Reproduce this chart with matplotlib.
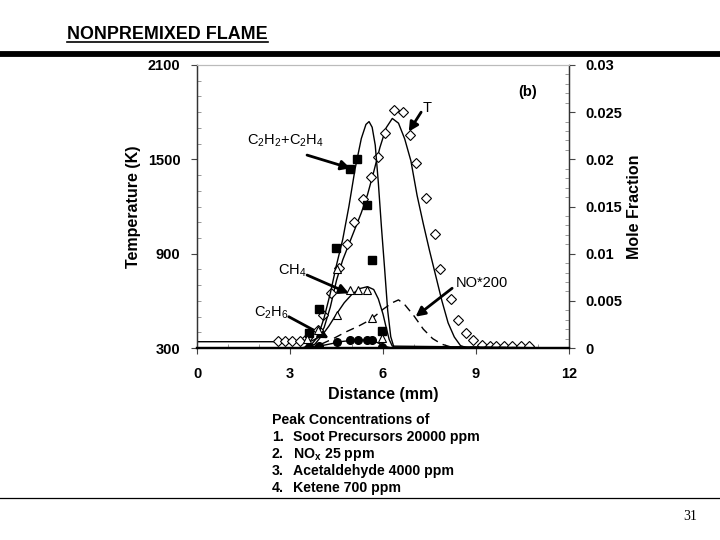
import matplotlib
matplotlib.use("Agg")
import matplotlib.pyplot as plt
from matplotlib.lines import Line2D
from matplotlib.ticker import MultipleLocator

plt.rcParams['font.family'] = ['Liberation Sans', 'DejaVu Sans']
plt.rcParams['mathtext.fontset'] = 'custom'
plt.rcParams['mathtext.rm'] = 'Liberation Sans'
plt.rcParams['mathtext.it'] = 'Liberation Sans:italic'
plt.rcParams['mathtext.bf'] = 'Liberation Sans:bold'

# ---------------- data ----------------
x_ticks = [0, 3, 6, 9, 12]
T_ticks = [300, 900, 1500, 2100]
mf_ticks = [0, 0.005, 0.01, 0.015, 0.02, 0.025, 0.03]
mf_tick_labels = ["0", "0.005", "0.01", "0.015", "0.02", "0.025", "0.03"]

# Temperature model line (K)
T_line_x = [0, 3.4, 3.7, 3.9, 4.1, 4.3, 4.5, 4.7, 4.9, 5.1, 5.3, 5.5, 5.7, 5.9, 6.1, 6.3,
            6.5, 6.7, 6.9, 7.1, 7.3, 7.5, 7.7, 7.9, 8.1, 8.3, 8.5, 8.7, 12]
T_line = [340, 340, 345, 365, 430, 560, 730, 860, 960, 1060, 1160, 1275, 1420, 1575, 1700, 1760,
          1730, 1630, 1490, 1270, 1090, 920, 760, 600, 460, 370, 315, 302, 300]
# Temperature measurements (open diamonds)
T_exp_x = [2.60, 2.83, 3.07, 3.31, 3.55, 3.91, 4.07, 4.31, 4.57, 4.85, 5.08, 5.36, 5.61, 5.83,
           6.07, 6.37, 6.63, 6.86, 7.07, 7.39, 7.68, 7.83, 8.19, 8.43, 8.68, 8.90, 9.18, 9.45,
           9.66, 9.90, 10.17, 10.44, 10.70]
T_exp = [346, 346, 346, 346, 362, 414, 510, 648, 807, 960, 1100, 1250, 1386, 1515,
         1667, 1814, 1798, 1657, 1475, 1256, 1027, 805, 613, 478, 396, 350, 319, 312,
         310, 310, 310, 310, 310]

# C2H2+C2H4 (mole fraction)
c2_line_x = [0, 3.4, 3.7, 3.9, 4.1, 4.3, 4.5, 4.7, 4.9, 5.1, 5.3, 5.45, 5.55, 5.65, 5.75,
             5.85, 5.95, 6.05, 6.15, 6.25, 6.35, 12]
c2_line = [0, 0, 0.0004, 0.0012, 0.0032, 0.0058, 0.0088, 0.0115, 0.0150, 0.0190, 0.0222,
           0.0237, 0.0240, 0.0234, 0.0215, 0.0175, 0.0128, 0.0085, 0.0040, 0.0012, 0.0001, 0]
c2_exp_x = [3.61, 3.93, 4.49, 4.92, 5.17, 5.49, 5.66, 5.98]
c2_exp = [0.0016, 0.0041, 0.0106, 0.0190, 0.0200, 0.0152, 0.0093, 0.0018]

# CH4
ch4_line_x = [0, 3.5, 3.8, 4.0, 4.25, 4.5, 4.75, 5.0, 5.25, 5.5, 5.7, 5.85, 6.0, 6.1, 6.2, 6.3, 12]
ch4_line = [0, 0, 0.0004, 0.0012, 0.0023, 0.0036, 0.0048, 0.0057, 0.0063, 0.0065, 0.0062,
            0.0052, 0.0036, 0.0022, 0.0009, 0.0002, 0]
ch4_exp_x = [3.55, 3.90, 4.52, 4.52, 4.93, 5.19, 5.49, 5.65, 5.98]
ch4_exp = [0.0010, 0.0019, 0.0084, 0.0035, 0.0061, 0.0062, 0.0061, 0.0032, 0.0011]

# C2H6
c2h6_line_x = [0, 3.5, 3.8, 4.1, 4.4, 4.7, 5.0, 5.3, 5.6, 5.8, 6.0, 6.15, 6.3, 12]
c2h6_line = [0, 0, 0.0001, 0.0003, 0.0005, 0.0007, 0.0008, 0.00085, 0.0008, 0.0006, 0.0003,
             0.0001, 0, 0]
c2h6_exp_x = [3.61, 3.93, 4.50, 4.92, 5.19, 5.49, 5.66, 5.98]
c2h6_exp = [0.0001, 0.0002, 0.0006, 0.0009, 0.0009, 0.0008, 0.0008, 0.0001]

# NO*200 (dashed)
no_line_x = [0, 3.6, 4.0, 4.4, 4.8, 5.2, 5.6, 6.0, 6.3, 6.5, 6.7, 7.0, 7.3, 7.6, 7.9, 8.2, 12]
no_line = [0, 0, 0.0004, 0.0010, 0.0017, 0.0023, 0.0030, 0.0041, 0.0048, 0.0051, 0.0046,
           0.0034, 0.0020, 0.0010, 0.0004, 0.0001, 0]

peak_lines = ["Peak Concentrations of",
              "Soot Precursors 20000 ppm",
              r"NO$_{\mathbf{x}}$ 25 ppm",
              "Acetaldehyde 4000 ppm",
              "Ketene 700 ppm"]

# ---------------- figure ----------------
W, H = 720, 540
fig = plt.figure(figsize=(7.2, 5.4), dpi=100)

def fx(px):
    return px / W

def fy(py):
    return 1 - py / H

# header
fig.text(fx(67), fy(39), "NONPREMIXED FLAME", fontsize=12.9, fontweight='bold',
         ha='left', va='baseline')
fig.add_artist(Line2D([fx(67), fx(268)], [fy(41.5), fy(41.5)], color='black', lw=1.2))
fig.add_artist(Line2D([0, 1], [fy(53.5), fy(53.5)], color='black', lw=4.2))
fig.add_artist(Line2D([0, 1], [fy(497.5), fy(497.5)], color='black', lw=0.9))
fig.text(fx(690), fy(517), "31", fontsize=10, family='Liberation Serif', ha='center', va='center')

# axes
ax = fig.add_axes([fx(197), fy(348), (569 - 197) / W, (348 - 65) / H])
ax2 = ax.twinx()
ax.set_xlim(0, 12)
ax.set_ylim(300, 2100)
ax2.set_ylim(0, 0.03)

ax.plot(T_line_x, T_line, color='black', lw=1.0, zorder=3)
ax.plot(T_exp_x, T_exp, linestyle='none', marker='D', ms=5.2, mfc='white', mec='black',
        mew=0.8, zorder=4)

ax2.plot(c2_line_x, c2_line, color='black', lw=1.0)
ax2.plot(ch4_line_x, ch4_line, color='black', lw=1.0)
ax2.plot(c2h6_line_x, c2h6_line, color='black', lw=1.0)
ax2.plot(no_line_x, no_line, color='black', lw=1.0, dashes=(6, 4))
ax2.plot(c2_exp_x, c2_exp, linestyle='none', marker='s', ms=5.5, color='black')
ax2.plot(ch4_exp_x, ch4_exp, linestyle='none', marker='^', ms=6, mfc='white', mec='black', mew=0.8)
ax2.plot(c2h6_exp_x, c2h6_exp, linestyle='none', marker='o', ms=5.5, color='black')

# ticks
ax.set_xticks(x_ticks)
ax.set_xticklabels([str(v) for v in x_ticks], fontweight='bold', fontsize=10.5)
ax.xaxis.set_minor_locator(MultipleLocator(1))
ax.set_yticks(T_ticks)
ax.set_yticklabels([str(v) for v in T_ticks], fontweight='bold', fontsize=10.5)
ax.yaxis.set_minor_locator(MultipleLocator(100))
ax2.set_yticks(mf_ticks)
ax2.set_yticklabels(mf_tick_labels, fontweight='bold', fontsize=10.5)
ax2.yaxis.set_minor_locator(MultipleLocator(0.001))

ax.tick_params(axis='x', which='major', direction='out', length=4, width=0.8, pad=10, colors='#444444',
               labelcolor='black')
ax.tick_params(axis='x', which='minor', direction='in', length=3, width=0.6, colors='#888888')
ax.tick_params(axis='y', which='major', direction='out', length=4, width=0.8, pad=8, colors='#444444',
               labelcolor='black')
ax.tick_params(axis='y', which='minor', direction='in', length=3, width=0.6, colors='#888888')
ax2.tick_params(axis='y', which='major', direction='out', length=4, width=0.8, pad=8, colors='#444444',
                labelcolor='black')
ax2.tick_params(axis='y', which='minor', direction='in', length=3, width=0.6, colors='#888888')

for a in (ax, ax2):
    a.spines['top'].set_color('#bbbbbb')
    a.spines['top'].set_linewidth(0.8)
    a.spines['left'].set_color('#333333')
    a.spines['left'].set_linewidth(0.9)
    a.spines['right'].set_color('#333333')
    a.spines['right'].set_linewidth(0.9)
    a.spines['bottom'].set_color('black')
    a.spines['bottom'].set_linewidth(1.6)

ax.set_xlabel("Distance (mm)", fontsize=11.5, fontweight='bold', labelpad=4)
ax.set_ylabel("Temperature (K)", fontsize=11.5, fontweight='bold', labelpad=5)
ax2.set_ylabel("Mole Fraction", fontsize=11.5, fontweight='bold', labelpad=3)

# annotations (in temperature-axis coordinates)
arrow_kw = dict(arrowstyle='-|>,head_length=0.55,head_width=0.28', lw=2.0, color='black',
                shrinkA=0, shrinkB=0)
lab_fs = 10.5
ax.text(10.66, 1928, "(b)", fontsize=10.5, fontweight='bold', ha='center', va='center')
ax.text(7.28, 1826, "T", fontsize=lab_fs, ha='left', va='center')
ax.annotate("", xy=(6.83, 1676), xytext=(7.23, 1800), arrowprops=arrow_kw)
ax.text(1.62, 1615, r"C$_2$H$_2$+C$_2$H$_4$", fontsize=lab_fs, ha='left', va='center')
ax.annotate("", xy=(4.95, 1443), xytext=(3.55, 1527), arrowprops=arrow_kw)
ax.text(2.62, 790, r"CH$_4$", fontsize=lab_fs, ha='left', va='center')
ax.annotate("", xy=(4.90, 648), xytext=(3.55, 764), arrowprops=arrow_kw)
ax.text(1.83, 523, r"C$_2$H$_6$", fontsize=lab_fs, ha='left', va='center')
ax.annotate("", xy=(4.25, 362), xytext=(2.96, 499), arrowprops=arrow_kw)
ax.text(8.34, 711, "NO*200", fontsize=lab_fs, ha='left', va='center')
ax.annotate("", xy=(7.05, 499), xytext=(8.23, 680), arrowprops=arrow_kw)

# text block (baselines)
ys = [424, 441, 458, 475, 492]
tb_fs = 10.2
fig.text(fx(272), fy(ys[0]), peak_lines[0], fontsize=tb_fs, fontweight='bold', ha='left', va='baseline')
for i in range(1, 5):
    fig.text(fx(272), fy(ys[i]), f"{i}.", fontsize=tb_fs, fontweight='bold', ha='left', va='baseline')
    fig.text(fx(293), fy(ys[i]), peak_lines[i], fontsize=tb_fs, fontweight='bold', ha='left', va='baseline')

fig.savefig("out.png", dpi=100)
